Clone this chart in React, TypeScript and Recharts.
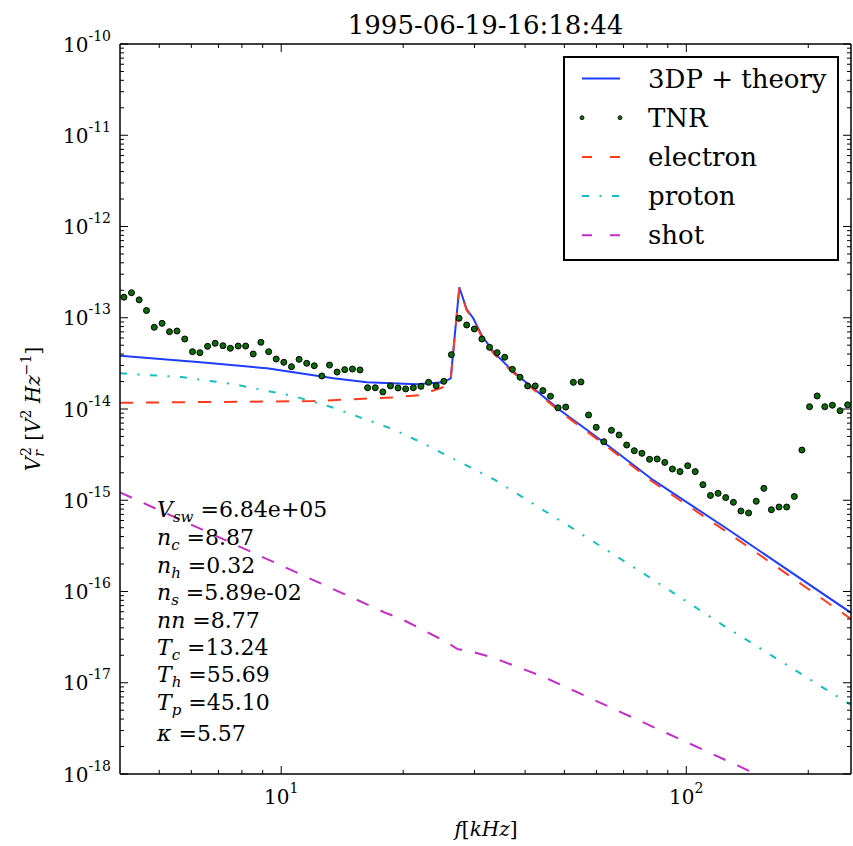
import React from "react";
import { ComposedChart, Line, XAxis, YAxis, Legend } from "recharts";

// TNR spectrum (kHz, V^2/Hz)
const tnrFreqKHz = [
  4.09, 4.27, 4.46, 4.65, 4.86, 5.08, 5.3, 5.53, 5.78, 6.04,
  6.3, 6.58, 6.87, 7.18, 7.49, 7.83, 8.17, 8.53, 8.91, 9.31,
  9.72, 10.15, 10.6, 11.07, 11.56, 12.07, 12.6, 13.16, 13.74, 14.35,
  14.99, 15.65, 16.34, 17.07, 17.82, 18.61, 19.43, 20.29, 21.19, 22.13,
  23.11, 24.13, 25.2, 26.31, 27.48, 28.7, 29.97, 31.29, 32.68, 34.12,
  35.63, 37.21, 38.86, 40.58, 42.37, 44.25, 46.21, 48.25, 50.39, 52.62,
  54.95, 57.38, 59.92, 62.57, 65.34, 68.23, 71.25, 74.41, 77.7, 81.14,
  84.73, 88.48, 92.4, 96.49, 100.8, 105.2, 109.9, 114.7, 119.8, 125.1,
  130.7, 136.4, 142.5, 148.8, 155.4, 162.2, 169.4, 176.9, 184.8, 192.9,
  201.5, 210.4, 219.7, 229.4, 239.6, 250.2,
];
const tnrPower = [
  1.68e-13, 1.88e-13, 1.57e-13, 1.2e-13, 7.86e-14, 8.69e-14, 7.03e-14, 7.16e-14, 5.85e-14, 4.25e-14,
  4.14e-14, 4.86e-14, 5.25e-14, 4.94e-14, 4.63e-14, 4.9e-14, 4.9e-14, 4.01e-14, 5.38e-14, 4.25e-14,
  3.53e-14, 3.25e-14, 2.91e-14, 3.5e-14, 3.17e-14, 2.98e-14, 2.3e-14, 3.03e-14, 2.54e-14, 2.7e-14,
  2.74e-14, 2.68e-14, 1.71e-14, 1.71e-14, 1.54e-14, 1.79e-14, 1.7e-14, 1.66e-14, 1.71e-14, 1.77e-14,
  1.96e-14, 1.8e-14, 2.01e-14, 3.94e-14, 9.86e-14, 8.33e-14, 7.53e-14, 5.85e-14, 4.74e-14, 4.14e-14,
  3.69e-14, 2.72e-14, 2.23e-14, 1.79e-14, 1.79e-14, 1.59e-14, 1.38e-14, 1.03e-14, 1.05e-14, 1.96e-14,
  1.98e-14, 8.6e-15, 6.3e-15, 4.38e-15, 5.84e-15, 5.19e-15, 4.03e-15, 3.49e-15, 3.27e-15, 2.81e-15,
  2.83e-15, 2.6e-15, 2.2e-15, 2.06e-15, 2.39e-15, 2.06e-15, 1.48e-15, 1.13e-15, 1.19e-15, 1.07e-15,
  9.49e-16, 7.62e-16, 7.25e-16, 9.74e-16, 1.35e-15, 7.87e-16, 8.43e-16, 8.43e-16, 1.1e-15, 3.55e-15,
  1.06e-14, 1.39e-14, 1.06e-14, 1.1e-14, 9.58e-15, 1.11e-14,
];

// 3DP + theory
const theoryFreqKHz = [4, 6.32, 9.22, 13.45, 16.27, 21.6, 25.13, 26.21, 27.52, 28.7, 29.79, 31.23, 33.37, 36.68, 38.82, 48.72, 62.3, 82.72, 125.5, 255];
const theoryPower = [3.84e-14, 3.25e-14, 2.79e-14, 2.17e-14, 1.96e-14, 1.87e-14, 1.96e-14, 2.17e-14, 2.16e-13, 1.24e-13, 9.87e-14, 6.47e-14, 4.25e-14, 2.79e-14, 2.23e-14, 9.75e-15, 4.38e-15, 1.67e-15, 4.93e-16, 5.84e-17];

const electronFreqKHz = [4, 12.0, 14.0, 16.27, 18.9, 22.0, 25.05, 26.2, 27.52, 28.7, 29.79, 31.23, 33.37, 36.68, 48.72, 62.3, 82.72, 125.5, 255];
const electronPower = [1.17e-14, 1.22e-14, 1.26e-14, 1.3e-14, 1.34e-14, 1.42e-14, 1.73e-14, 2.08e-14, 2.1e-13, 1.21e-13, 9.57e-14, 6.23e-14, 4.11e-14, 2.69e-14, 9.39e-15, 4.19e-15, 1.585e-15, 4.54e-16, 5.0e-17];

const protonFreqKHz = [4, 5.73, 7.62, 10.7, 13.4, 18.9, 22.0, 33.7, 51.6, 79.4, 123, 255];
const protonPower = [2.46e-14, 2.23e-14, 1.87e-14, 1.39e-14, 1.04e-14, 5.99e-15, 4.38e-15, 1.67e-15, 5.13e-16, 1.52e-16, 4.29e-17, 5.7e-18];

const shotFreqKHz = [4, 18.2, 19.65, 25.3, 27.3, 29.1, 33.4, 44.3, 66.5, 148.7, 255];
const shotPower = [1.22e-15, 5.77e-17, 5.09e-17, 2.87e-17, 2.33e-17, 2.24e-17, 1.88e-17, 1.165e-17, 5.12e-18, 1.0e-18, 3.4e-19];

const xDomain = [4, 255];
const yDomain = [1e-18, 1e-10];
const xTickValues = [5, 6, 7, 8, 9, 10, 20, 30, 40, 50, 60, 70, 80, 90, 100, 200];
const yDecades = [1e-18, 1e-17, 1e-16, 1e-15, 1e-14, 1e-13, 1e-12, 1e-11, 1e-10];
const minorSteps = [2, 3, 4, 5, 6, 7, 8, 9];

const params = [
  { sym: "V", sub: "sw", val: "6.84e+05" },
  { sym: "n", sub: "c", val: "8.87" },
  { sym: "n", sub: "h", val: "0.32" },
  { sym: "n", sub: "s", val: "5.89e-02" },
  { sym: "nn", sub: "", val: "8.77" },
  { sym: "T", sub: "c", val: "13.24" },
  { sym: "T", sub: "h", val: "55.69" },
  { sym: "T", sub: "p", val: "45.10" },
  { sym: "κ", sub: "", val: "5.57" },
];
const paramBaselines = [517, 545, 573, 600, 628, 655, 682, 710, 741];

const FONT = "DejaVu Serif";
const BLUE = "#1f3dff";
const RED = "#ff3b1e";
const CYAN = "#16bfbf";
const MAGENTA = "#c22ec6";
const GREEN = "#0b6b0b";

const toRows = (fs: number[], vs: number[]) => fs.map((f, i) => ({ f, v: vs[i] }));

const tnrData = toRows(tnrFreqKHz, tnrPower);
const theoryData = toRows(theoryFreqKHz, theoryPower);
const electronData = toRows(electronFreqKHz, electronPower);
const protonData = toRows(protonFreqKHz, protonPower);
const shotData = toRows(shotFreqKHz, shotPower);

const yTickValues: number[] = [];
yDecades.forEach((d, i) => {
  yTickValues.push(d);
  if (i < yDecades.length - 1) minorSteps.forEach((m) => yTickValues.push(d * m));
});

const isMajor = (v: number) => {
  const l = Math.log10(v);
  return Math.abs(l - Math.round(l)) < 1e-6;
};
const expOf = (v: number) => Math.round(Math.log10(v));

function BottomTick(props: any) {
  const { x, y, payload } = props;
  const major = isMajor(payload.value);
  return (
    <g>
      <line x1={x} x2={x} y1={y} y2={y - (major ? 8 : 4)} stroke="#000" strokeWidth={1} />
      {major && (
        <text x={x} y={y + 30} textAnchor="middle" fontFamily={FONT} fontSize={20} fill="#000">
          10<tspan fontSize={14} dy={-11}>{expOf(payload.value)}</tspan>
        </text>
      )}
    </g>
  );
}

function TopTick(props: any) {
  const { x, y, payload } = props;
  const major = isMajor(payload.value);
  return <line x1={x} x2={x} y1={y} y2={y + (major ? 8 : 4)} stroke="#000" strokeWidth={1} />;
}

function LeftTick(props: any) {
  const { x, y, payload } = props;
  const major = isMajor(payload.value);
  return (
    <g>
      <line x1={x} x2={x + (major ? 8 : 4)} y1={y} y2={y} stroke="#000" strokeWidth={1} />
      {major && (
        <text x={x - 9} y={y + 7.5} textAnchor="end" fontFamily={FONT} fontSize={20} fill="#000">
          10<tspan fontSize={14} dy={-11}>{expOf(payload.value)}</tspan>
        </text>
      )}
    </g>
  );
}

function RightTick(props: any) {
  const { x, y, payload } = props;
  const major = isMajor(payload.value);
  return <line x1={x} x2={x - (major ? 8 : 4)} y1={y} y2={y} stroke="#000" strokeWidth={1} />;
}

const legendItems = [
  { label: "3DP + theory", kind: "solid", color: BLUE },
  { label: "TNR", kind: "dots", color: GREEN },
  { label: "electron", kind: "dash", color: RED },
  { label: "proton", kind: "dashdot", color: CYAN },
  { label: "shot", kind: "dash", color: MAGENTA },
];

function LegendBox() {
  return (
    <svg width={276} height={205} style={{ display: "block" }}>
      <rect x={1} y={1} width={274} height={203} fill="#fff" stroke="#000" strokeWidth={2} />
      {legendItems.map((it, i) => {
        const cy = 22.5 + i * 39.2;
        let sample: React.ReactNode = null;
        if (it.kind === "dots") {
          sample = (
            <g>
              <circle cx={19} cy={cy} r={2} fill={it.color} stroke="#000" strokeWidth={0.8} />
              <circle cx={57} cy={cy} r={2} fill={it.color} stroke="#000" strokeWidth={0.8} />
            </g>
          );
        } else {
          const dash = it.kind === "dash" ? "10 18" : it.kind === "dashdot" ? "7 10.5 2 10.5" : undefined;
          sample = <line x1={19} x2={57} y1={cy} y2={cy} stroke={it.color} strokeWidth={2} strokeDasharray={dash} />;
        }
        return (
          <g key={it.label}>
            {sample}
            <text x={85} y={cy + 9} fontFamily={FONT} fontSize={26} fill="#000">
              {it.label}
            </text>
          </g>
        );
      })}
    </svg>
  );
}

export default function App() {
  return (
    <div style={{ position: "absolute", left: 0, top: 0, width: 853, height: 846, background: "#fff" }}>
      <ComposedChart width={853} height={846} margin={{ top: 43, right: 1, bottom: 71, left: 119 }}>
        <XAxis
          xAxisId="b"
          dataKey="f"
          type="number"
          scale="log"
          domain={xDomain}
          allowDataOverflow
          ticks={xTickValues}
          interval={0}
          height={1}
          tickSize={0}
          tickMargin={0}
          tickLine={false}
          tick={<BottomTick />}
          axisLine={{ stroke: "#000", strokeWidth: 1.5 }}
        />
        <XAxis
          xAxisId="t"
          orientation="top"
          dataKey="f"
          type="number"
          scale="log"
          domain={xDomain}
          allowDataOverflow
          ticks={xTickValues}
          interval={0}
          height={1}
          tickSize={0}
          tickMargin={0}
          tickLine={false}
          tick={<TopTick />}
          axisLine={{ stroke: "#000", strokeWidth: 1.5 }}
        />
        <YAxis
          yAxisId="l"
          type="number"
          scale="log"
          domain={yDomain}
          allowDataOverflow
          ticks={yTickValues}
          interval={0}
          width={1}
          tickSize={0}
          tickMargin={0}
          tickLine={false}
          tick={<LeftTick />}
          axisLine={{ stroke: "#000", strokeWidth: 1.5 }}
        />
        <YAxis
          yAxisId="r"
          orientation="right"
          type="number"
          scale="log"
          domain={yDomain}
          allowDataOverflow
          ticks={yTickValues}
          interval={0}
          width={1}
          tickSize={0}
          tickMargin={0}
          tickLine={false}
          tick={<RightTick />}
          axisLine={{ stroke: "#000", strokeWidth: 1.5 }}
        />
        <Legend
          layout="vertical"
          align="center"
          verticalAlign="middle"
          wrapperStyle={{ left: 563, top: 56, width: 276, height: 205 }}
          content={() => <LegendBox />}
        />
        <Line xAxisId="b" yAxisId="l" data={theoryData} dataKey="v" type="linear" stroke={BLUE} strokeWidth={2} dot={false} activeDot={false} isAnimationActive={false} name="3DP + theory" />
        <Line
          xAxisId="b"
          yAxisId="l"
          data={tnrData}
          dataKey="v"
          type="linear"
          stroke="none"
          strokeWidth={0}
          dot={{ r: 3, fill: GREEN, stroke: "#000", strokeWidth: 1 }}
          activeDot={false}
          isAnimationActive={false}
          name="TNR"
        />
        <Line xAxisId="b" yAxisId="l" data={electronData} dataKey="v" type="linear" stroke={RED} strokeWidth={2} strokeDasharray="13 13" dot={false} activeDot={false} isAnimationActive={false} name="electron" />
        <Line xAxisId="b" yAxisId="l" data={protonData} dataKey="v" type="linear" stroke={CYAN} strokeWidth={2} strokeDasharray="7 10.5 2 10.5" dot={false} activeDot={false} isAnimationActive={false} name="proton" />
        <Line xAxisId="b" yAxisId="l" data={shotData} dataKey="v" type="linear" stroke={MAGENTA} strokeWidth={2} strokeDasharray="13 13" dot={false} activeDot={false} isAnimationActive={false} name="shot" />
      </ComposedChart>

      <svg width={853} height={846} style={{ position: "absolute", left: 0, top: 0, pointerEvents: "none" }}>
        <text x={485.5} y={34} textAnchor="middle" fontFamily={FONT} fontSize={26} fill="#000">
          1995-06-19-16:18:44
        </text>
        <text x={486} y={836} textAnchor="middle" fontFamily={FONT} fontSize={20} fill="#000">
          <tspan fontStyle="italic">f</tspan>[<tspan fontStyle="italic">kHz</tspan>]
        </text>
        <text transform="translate(40,409) rotate(-90)" textAnchor="middle" fontFamily={FONT} fontSize={20} fill="#000">
          <tspan fontStyle="italic">V</tspan>
          <tspan fontStyle="italic" fontSize={14} dy={4}>r</tspan>
          <tspan fontSize={14} dx={-6} dy={-13}>2</tspan>
          <tspan dy={9}> [</tspan>
          <tspan fontStyle="italic">V</tspan>
          <tspan fontSize={14} dy={-9}>2</tspan>
          <tspan fontStyle="italic" dy={9}> Hz</tspan>
          <tspan fontSize={14} dy={-9}>−1</tspan>
          <tspan dy={9}>]</tspan>
        </text>
        {params.map((p, i) => (
          <text key={i} x={157} y={paramBaselines[i]} fontFamily={FONT} fontSize={22} fill="#000">
            <tspan fontStyle="italic">{p.sym}</tspan>
            {p.sub ? (
              <>
                <tspan fontStyle="italic" fontSize={15} dy={5}>{p.sub}</tspan>
                <tspan dy={-5}> ={p.val}</tspan>
              </>
            ) : (
              <tspan> ={p.val}</tspan>
            )}
          </text>
        ))}
      </svg>
    </div>
  );
}
